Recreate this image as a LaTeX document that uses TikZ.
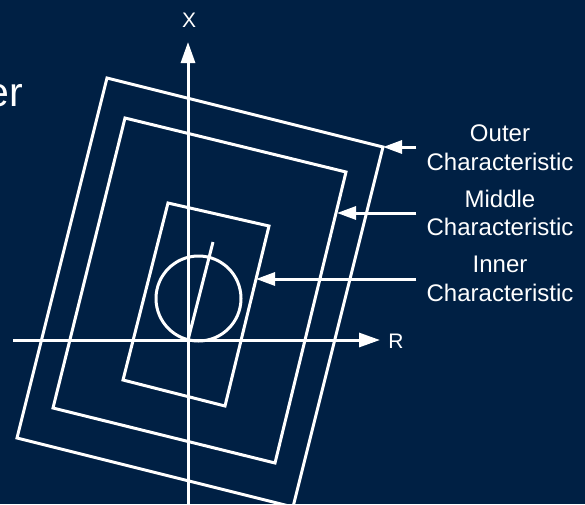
\documentclass[tikz,border=0pt]{standalone}
\usepackage{fontspec}
\setmainfont{Liberation Sans}
\usetikzlibrary{arrows.meta}
\definecolor{navy}{RGB}{0,32,68}
\begin{document}
\begin{tikzpicture}[x=1pt,y=-1pt,
  wline/.style={draw=white,line width=3pt},
  arr/.style={wline,-{Triangle[length=19pt,width=13pt]}},
  axis/.style={wline,-{Triangle[length=21pt,width=14pt]}},
  lab/.style={text=white,font=\fontsize{24}{28.5}\selectfont,align=center,inner xsep=10pt,inner ysep=0pt},
  axlab/.style={text=white,font=\fontsize{21}{25}\selectfont,inner sep=0pt}]
\useasboundingbox (0,0) rectangle (585,504);
\fill[navy] (0,0) rectangle (585,504);
\clip (0,0) rectangle (585,504);
% partial title
\node[anchor=base east,text=white,font=\fontsize{41}{48}\selectfont,inner sep=0pt] (title) at (23,106) {er};
% corners
\coordinate (o1) at (107,78);  \coordinate (o2) at (383,147);
\coordinate (o3) at (293,507); \coordinate (o4) at (17,438);
\coordinate (m1) at (125,118); \coordinate (m2) at (346,172);
\coordinate (m3) at (275,463); \coordinate (m4) at (53,408);
\coordinate (i1) at (168,203); \coordinate (i2) at (269,226);
\coordinate (i3) at (225,406); \coordinate (i4) at (123,380);
\draw[wline] (o1) -- (o2) -- (o3) -- (o4) -- cycle;
\draw[wline] (m1) -- (m2) -- (m3) -- (m4) -- cycle;
\draw[wline] (i1) -- (i2) -- (i3) -- (i4) -- cycle;
% origin, circle, line
\coordinate (O) at (188,340);
\coordinate (lineEnd) at (213,242);
\coordinate (cc) at (198.5,298.5);
\draw[wline] (cc) circle[radius=42.5pt];
\draw[wline] (O) -- (lineEnd);
% axes
\coordinate (xb) at (188,504);
\coordinate (xt) at (188,42);
\coordinate (rl) at (13,340);
\coordinate (rr) at (380,340);
\draw[axis] (xb) -- (xt);
\draw[axis] (rl) -- (rr);
\node[axlab] (X) at (189,20) {X};
\node[axlab] (R) at (396,341) {R};
% labels and arrows
\node[lab] (outer) at (500,147.5) {Outer\\Characteristic};
\node[lab] (middle) at (500,213) {Middle\\Characteristic};
\node[lab] (inner) at (500,279) {Inner\\Characteristic};
\coordinate (ot) at (383,147);
\coordinate (mt) at (337,213);
\coordinate (it) at (256,279);
\draw[arr] (outer.west |- ot) -- (ot);
\draw[arr] (middle.west |- mt) -- (mt);
\draw[arr] (inner.west |- it) -- (it);
\end{tikzpicture}
\end{document}
